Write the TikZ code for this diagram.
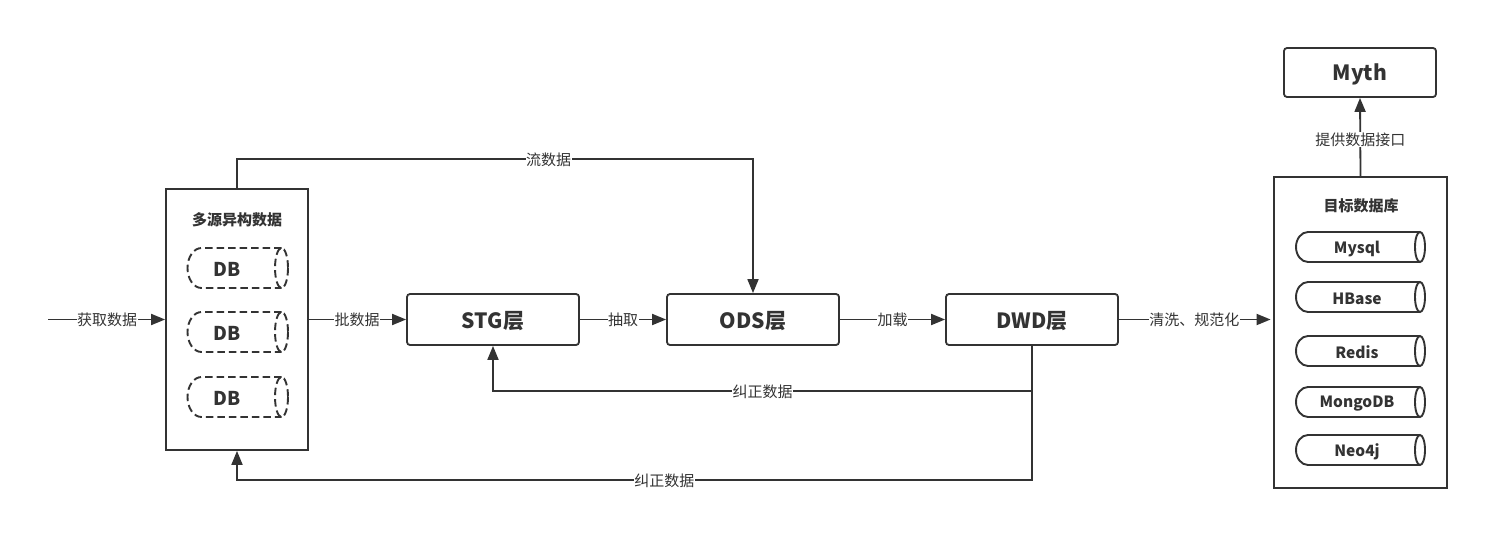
\documentclass[tikz,border=0pt]{standalone}
\usepackage{fontspec}
\setmainfont{Noto Sans CJK SC}
\usetikzlibrary{arrows.meta}
\definecolor{ink}{HTML}{333333}
\newcommand{\lowered}[1]{\raisebox{-2pt}[\height][\depth]{#1}}
\tikzset{
  box/.style={draw=ink,line width=1.8pt,fill=white,text=ink,inner sep=0pt,minimum width=172pt,minimum height=51pt,rounded corners=3pt,font=\fontsize{21}{24}\selectfont\bfseries},
  outer/.style={draw=ink,line width=1.8pt,inner sep=0pt},
  title/.style={text=ink,inner sep=0pt,font=\fontsize{15}{17}\selectfont\bfseries},
  conn/.style={draw=ink,line width=1.8pt,-{Triangle[length=14pt,width=11pt]}},
  lab/.style={fill=white,text=ink,inner xsep=0.5pt,inner ysep=0.5pt,yshift=-0.5pt,font=\fontsize{15}{17}\selectfont},
  dbtext/.style={text=ink,inner sep=0pt,font=\fontsize{19}{22}\selectfont\bfseries},
  tgtext/.style={text=ink,inner sep=0pt,font=\fontsize{15.5}{18}\selectfont\bfseries},
  dbline/.style={draw=ink,line width=1.9pt,dash pattern=on 7.5pt off 4pt},
  tgline/.style={draw=ink,line width=1.9pt},
}
% #1 style, #2 left, #3 top, #4 ellipse centre x, #5 ellipse rx, #6 half height, #7 left rx
\newcommand{\mycyl}[7]{%
  \draw[#1] (#4,#3) -- (#2+#7,#3) arc[start angle=270,end angle=90,x radius=#7,y radius=#6] -- (#4,#3+2*#6);
  \draw[#1] (#4,#3+#6) ellipse[x radius=#5,y radius=#6];
}
\begin{document}
\begin{tikzpicture}[x=1pt,y=-1pt]
\useasboundingbox (0,0) rectangle (1508,549);
\fill[white] (0,0) rectangle (1508,549);

\node[outer,minimum width=142pt,minimum height=261pt] (multi) at (237,319.5) {};
\node[outer,minimum width=173pt,minimum height=311pt] (target) at (1360.5,332.5) {};
\node[box] (stg) at (493,319.5) {\lowered{STG层}};
\node[box] (ods) at (753,319.5) {\lowered{ODS层}};
\node[box] (dwd) at (1032,319.5) {\lowered{DWD层}};
\node[box,minimum width=152pt,minimum height=49pt] (myth) at (1360,72.5) {\lowered{Myth}};

\node[title] (multititle) at (237,219.5) {多源异构数据};
\node[title] (targettitle) at (1361,205.5) {目标数据库};

\mycyl{dbline}{187.5}{248}{281.5}{6.5}{20}{14}
\mycyl{dbline}{187.5}{312}{281.5}{6.5}{20}{14}
\mycyl{dbline}{187.5}{377}{281.5}{6.5}{20}{14}
\node[dbtext] (db1) at (227,269) {DB};
\node[dbtext] (db2) at (227,333) {DB};
\node[dbtext] (db3) at (227,398) {DB};

\mycyl{tgline}{1296}{232}{1420}{5}{15}{12}
\mycyl{tgline}{1296}{282}{1420}{5}{15}{12}
\mycyl{tgline}{1296}{336}{1420}{5}{15}{12}
\mycyl{tgline}{1296}{387}{1420}{5}{15}{12}
\mycyl{tgline}{1296}{435}{1420}{5}{15}{12}
\node[tgtext] (t1) at (1357,249) {Mysql};
\node[tgtext] (t2) at (1357,298.5) {HBase};
\node[tgtext] (t3) at (1357,352) {Redis};
\node[tgtext] (t4) at (1357,404) {MongoDB};
\node[tgtext] (t5) at (1357,452) {Neo4j};

\coordinate (in) at (48,319.5);
\coordinate (stm1) at (237,159);
\coordinate (stm2) at (753,159);
\coordinate (fixa) at (1032,391);
\coordinate (fixb) at (493,391);
\coordinate (fixc) at (1032,480);
\coordinate (fixd) at (237,480);

\draw[conn] (in) -- node[lab,pos=0.505] {获取数据} (multi.west);
\draw[conn] (multi.east) -- node[lab,pos=0.495] {批数据} (stg.west);
\draw[conn] (stg.east) -- node[lab,pos=0.5] {抽取} (ods.west);
\draw[conn] (ods.east) -- node[lab,pos=0.5] {加载} (dwd.west);
\draw[conn,shorten >=2.5pt] (dwd.east) -- node[lab,pos=0.49] {清洗、规范化} (dwd.east -| target.west);
\draw[conn] (multi.north) -- (stm1) -- node[lab,pos=0.604] {流数据} (stm2) -- (ods.north);
\draw[conn] (dwd.south) -- (fixc) -- node[lab,pos=0.4625] {纠正数据} (fixd) -- (multi.south);
\draw[conn] (fixa) -- node[lab,pos=0.5] {纠正数据} (fixb) -- (stg.south);
\draw[conn] (target.north) -- node[lab,pos=0.47] {提供数据接口} (myth.south);
\end{tikzpicture}
\end{document}
